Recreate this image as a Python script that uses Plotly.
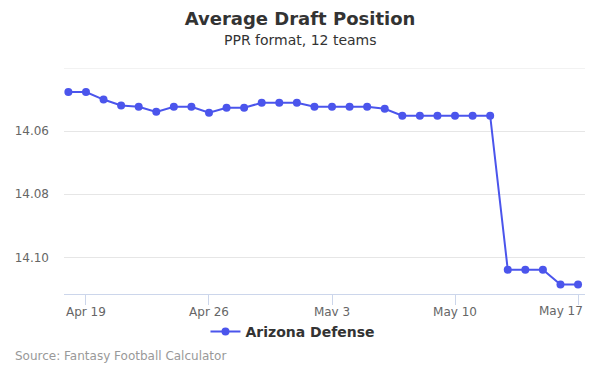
import plotly.graph_objects as go

dates = ["2019-04-18", "2019-04-19", "2019-04-20", "2019-04-21", "2019-04-22", "2019-04-23",
         "2019-04-24", "2019-04-25", "2019-04-26", "2019-04-27", "2019-04-28", "2019-04-29",
         "2019-04-30", "2019-05-01", "2019-05-02", "2019-05-03", "2019-05-04", "2019-05-05",
         "2019-05-06", "2019-05-07", "2019-05-08", "2019-05-09", "2019-05-10", "2019-05-11",
         "2019-05-12", "2019-05-13", "2019-05-14", "2019-05-15", "2019-05-16", "2019-05-17"]
adp = [14.0476, 14.0476, 14.0500, 14.0519, 14.0523, 14.0539,
       14.0523, 14.0523, 14.0542, 14.0526, 14.0526, 14.0510,
       14.0510, 14.0510, 14.0523, 14.0523, 14.0523, 14.0523,
       14.0529, 14.0551, 14.0551, 14.0551, 14.0551, 14.0551,
       14.0551, 14.1039, 14.1039, 14.1039, 14.1086, 14.1086]
series_name = "Arizona Defense"
y_ticks = [14.04, 14.06, 14.08, 14.10]
y_tick_text = ["", "14.06", "14.08", "14.10"]
x_ticks = ["2019-04-19", "2019-04-26", "2019-05-03", "2019-05-10", "2019-05-17"]
x_tick_text = ["Apr 19", "Apr 26", "May 3", "May 10", ""]
last_tick_label = "May 17"

color = "#4B55EC"
font = "DejaVu Sans"

fig = go.Figure()
fig.add_trace(go.Scatter(
    x=dates, y=adp, mode="lines+markers", name=series_name,
    line=dict(color=color, width=2),
    marker=dict(color=color, size=8),
))

fig.update_layout(
    width=600, height=375,
    margin=dict(l=64, r=15, t=68, b=81),
    paper_bgcolor="white", plot_bgcolor="white",
    font=dict(family=font, color="#666666", size=12),
    title=dict(text="<b>Average Draft Position</b>", x=0.5, xanchor="center",
               y=1 - 19 / 375, yanchor="middle",
               font=dict(family=font, size=18, color="#333333")),
    showlegend=True,
    legend=dict(orientation="h", x=0.4395, xanchor="center", y=-(332 - 294) / 226, yanchor="middle",
                font=dict(family=font, size=14, color="#333333", weight="bold"),
                itemwidth=30),
    xaxis=dict(
        type="date", automargin=False,
        range=["2019-04-17 18:00", "2019-05-17 09:30"],
        tickvals=x_ticks, ticktext=x_tick_text,
        showgrid=False, zeroline=False,
        showline=True, linecolor="#ccd6eb", linewidth=1,
        ticks="outside", ticklen=10, tickcolor="#ccd6eb",
        tickfont=dict(family=font, size=12, color="#666666"),
        ticklabelstandoff=-3,
    ),
    yaxis=dict(
        automargin=False,
        autorange=False, range=[14.1116, 14.04],
        tickvals=y_ticks, ticktext=y_tick_text,
        showgrid=True, gridcolor="#e6e6e6", gridwidth=1,
        zeroline=False, showline=False,
        tickfont=dict(family=font, size=12, color="#666666"),
        ticklabelstandoff=14,
    ),
    shapes=[
        dict(type="line", xref="paper", yref="y", x0=0, x1=1, y0=14.04, y1=14.04,
             line=dict(color="#e6e6e6", width=1), layer="below"),
    ],
    annotations=[
        dict(text="PPR format, 12 teams", xref="paper", yref="paper",
             x=(300 - 64) / 521, y=(294 - 40) / 226, xanchor="center", yanchor="middle",
             showarrow=False, font=dict(family=font, size=14, color="#333333")),
        dict(text="Source: Fantasy Football Calculator", xref="paper", yref="paper",
             x=(13 - 64) / 521, y=-(356 - 294) / 226, xanchor="left", yanchor="middle",
             showarrow=False, font=dict(family=font, size=12, color="#999999")),
        dict(text=last_tick_label, xref="paper", yref="paper",
             x=1.0, y=-(311 - 294) / 226, xanchor="right", yanchor="middle",
             showarrow=False, font=dict(family=font, size=12, color="#666666")),
    ],
)

fig.write_html("out.html", config={"displayModeBar": False},
               post_script="document.body.style.margin='0';")
